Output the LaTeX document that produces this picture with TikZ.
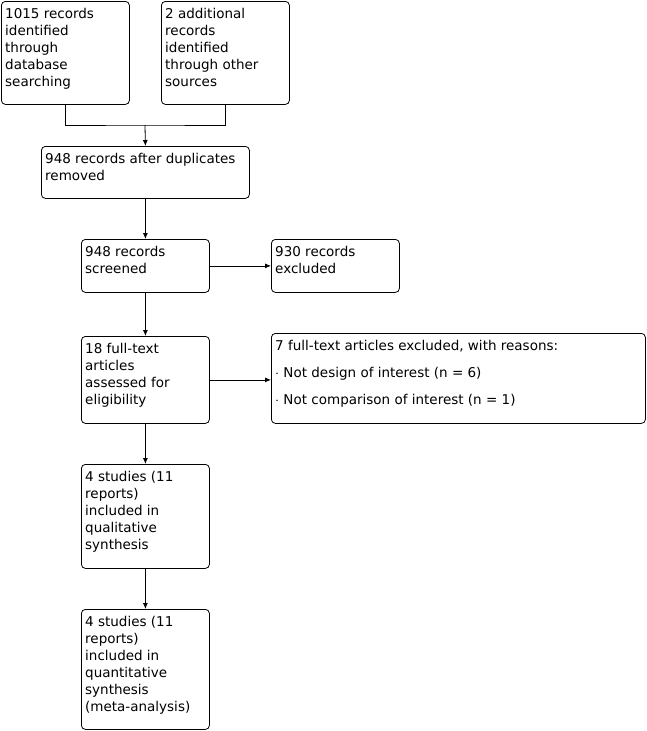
\documentclass[tikz,border=0pt]{standalone}
\usepackage{fontspec}
\setmainfont{DejaVu Sans}
\usetikzlibrary{arrows.meta,positioning}
\tikzset{
  box/.style={draw,rounded corners=4pt,line width=0.8pt,anchor=north west,inner sep=0pt},
  txt/.style={anchor=north west,inner sep=0pt,align=left,font=\fontsize{13.5}{17}\selectfont},
  flow/.style={-{Latex[length=6pt,width=5pt]},line width=0.8pt},
  link/.style={line width=0.8pt},
}
\begin{document}
\begin{tikzpicture}[x=1pt,y=-1pt]
    \useasboundingbox (0,0) rectangle (647,731);
    % identification
    \node[box,minimum width=128pt,minimum height=103pt] (dbRec) at (1,1) {};
    \node[txt] (dbRecT) at ([shift={(4,7)}]dbRec.north west) {1015 records\\identified\\through\\database\\searching};
    \node[box,minimum width=128pt,minimum height=103pt] (otherRec) at (161,1) {};
    \node[txt] (otherRecT) at ([shift={(4,7)}]otherRec.north west) {2 additional\\records\\identified\\through other\\sources};
    \coordinate (merge) at (145,125);
    % screening
    \node[box,minimum width=208pt,minimum height=52pt] (dedup) at (41,146) {};
    \node[txt] (dedupT) at ([shift={(4,7)}]dedup.north west) {948 records after duplicates\\removed};
    \node[box,minimum width=128pt,minimum height=53pt] (screen) at (81,239) {};
    \node[txt] (screenT) at ([shift={(4,7)}]screen.north west) {948 records\\screened};
    \node[box,minimum width=128pt,minimum height=53pt] (excl) at (271,239) {};
    \node[txt] (exclT) at ([shift={(4,7)}]excl.north west) {930 records\\excluded};
    % eligibility
    \node[box,minimum width=128pt,minimum height=87pt] (fullTxt) at (81,336) {};
    \node[txt] (fullTxtT) at ([shift={(4,7)}]fullTxt.north west) {18 full-text\\articles\\assessed for\\eligibility};
    \node[box,minimum width=374pt,minimum height=90pt] (fullExcl) at (271,333) {};
    \node[txt] (fullExclT) at ([shift={(4,7)}]fullExcl.north west) {7 full-text articles excluded, with reasons:\\[10pt]$\cdot$ Not design of interest (n = 6)\\[10pt]$\cdot$ Not comparison of interest (n = 1)};
    % included
    \node[box,minimum width=128pt,minimum height=104pt] (qual) at (81,464) {};
    \node[txt] (qualT) at ([shift={(4,7)}]qual.north west) {4 studies (11\\reports)\\included in\\qualitative\\synthesis};
    \node[box,minimum width=128pt,minimum height=120pt] (quant) at (81,609) {};
    \node[txt] (quantT) at ([shift={(4,7)}]quant.north west) {4 studies (11\\reports)\\included in\\quantitative\\synthesis\\(meta-analysis)};
    % connectors
    \draw[link] (dbRec.south) |- (merge) -| (otherRec.south);
    \draw[flow] (merge) -- (dedup.north);
    \draw[flow] (dedup.south) -- (screen.north);
    \draw[flow] (screen.east) -- (excl.west);
    \draw[flow] (screen.south) -- (fullTxt.north);
    \draw[flow] (fullTxt.east) -- (fullTxt.east -| fullExcl.west);
    \draw[flow] (fullTxt.south) -- (qual.north);
    \draw[flow] (qual.south) -- (quant.north);
\end{tikzpicture}
\end{document}
